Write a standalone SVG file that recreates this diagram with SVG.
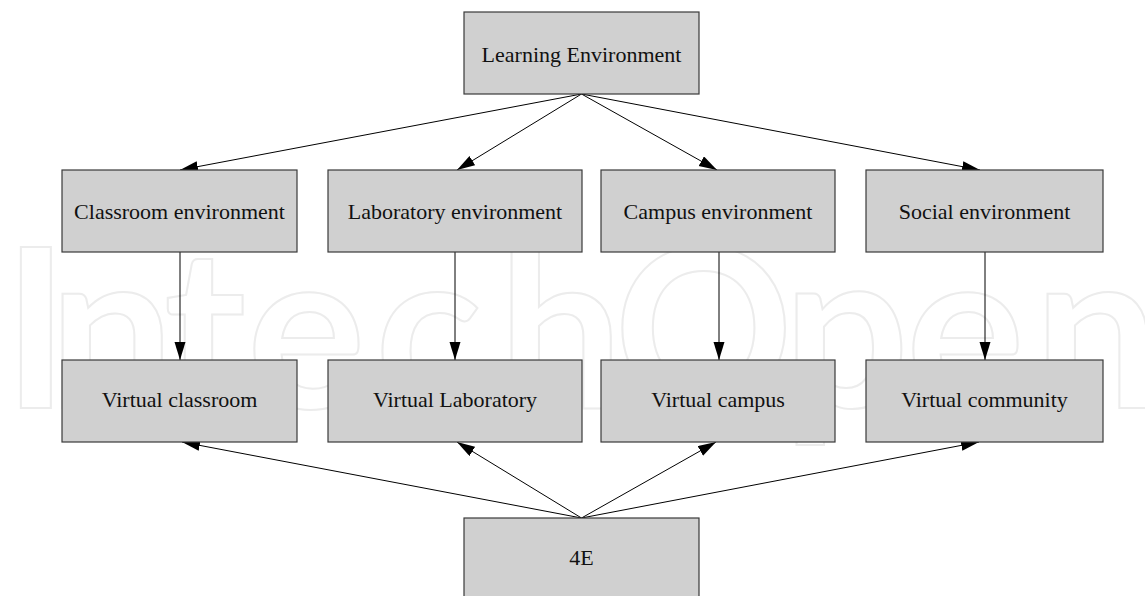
<svg xmlns="http://www.w3.org/2000/svg" width="1145" height="596" viewBox="0 0 1145 596">
<style>
.box{fill:#d0d0d0;stroke:#3a3a3a;stroke-width:1.2}
.lbl{font-family:"Liberation Serif","Times New Roman",serif;font-size:22px;fill:#111;text-anchor:middle}
.edge{stroke:#000;stroke-width:1;fill:none;marker-end:url(#ah)}
.wm{font-family:Lato,"Open Sans",sans-serif;font-weight:700;font-size:222px;fill:#fff;stroke:#ececec;stroke-width:2}
</style>
<defs>
<marker id="ah" markerUnits="userSpaceOnUse" markerWidth="19" markerHeight="12" refX="18" refY="5.5" orient="auto">
<path d="M0,0 L18,5.5 L0,11 z" fill="#000"/>
</marker>
</defs>
<rect x="0" y="0" width="1145" height="596" fill="#fff"/>
<text class="wm" x="3 49 164 247 375 498 614 783 906 1034" y="408">IntechOpen</text>
<g id="connectors">
<line class="edge" x1="581.5" y1="94" x2="180" y2="170"/>
<line class="edge" x1="581.5" y1="94" x2="457" y2="170"/>
<line class="edge" x1="581.5" y1="94" x2="717" y2="170"/>
<line class="edge" x1="581.5" y1="94" x2="980" y2="170"/>
<line class="edge" x1="180" y1="252" x2="180" y2="360"/>
<line class="edge" x1="455" y1="252" x2="455" y2="360"/>
<line class="edge" x1="719" y1="252" x2="719" y2="360"/>
<line class="edge" x1="985" y1="252" x2="985" y2="360"/>
<line class="edge" x1="581.5" y1="518" x2="182" y2="442"/>
<line class="edge" x1="581.5" y1="518" x2="457" y2="442"/>
<line class="edge" x1="581.5" y1="518" x2="716" y2="442"/>
<line class="edge" x1="581.5" y1="518" x2="979" y2="442"/>
</g>
<g id="learning-environment"><rect class="box" x="464" y="12" width="235" height="82"/><text class="lbl" x="581.5" y="62">Learning Environment</text></g>
<g id="classroom-environment"><rect class="box" x="62" y="170" width="235" height="82"/><text class="lbl" x="179.5" y="219">Classroom environment</text></g>
<g id="laboratory-environment"><rect class="box" x="328" y="170" width="254" height="82"/><text class="lbl" x="455" y="219">Laboratory environment</text></g>
<g id="campus-environment"><rect class="box" x="601" y="170" width="234" height="82"/><text class="lbl" x="718" y="219">Campus environment</text></g>
<g id="social-environment"><rect class="box" x="866" y="170" width="237" height="82"/><text class="lbl" x="984.5" y="219">Social environment</text></g>
<g id="virtual-classroom"><rect class="box" x="62" y="360" width="235" height="82"/><text class="lbl" x="179.5" y="407">Virtual classroom</text></g>
<g id="virtual-laboratory"><rect class="box" x="328" y="360" width="254" height="82"/><text class="lbl" x="455" y="407">Virtual Laboratory</text></g>
<g id="virtual-campus"><rect class="box" x="601" y="360" width="234" height="82"/><text class="lbl" x="718" y="407">Virtual campus</text></g>
<g id="virtual-community"><rect class="box" x="866" y="360" width="237" height="82"/><text class="lbl" x="984.5" y="407">Virtual community</text></g>
<g id="four-e"><rect class="box" x="464" y="518" width="235" height="90"/><text class="lbl" x="581.5" y="565">4E</text></g>
</svg>
